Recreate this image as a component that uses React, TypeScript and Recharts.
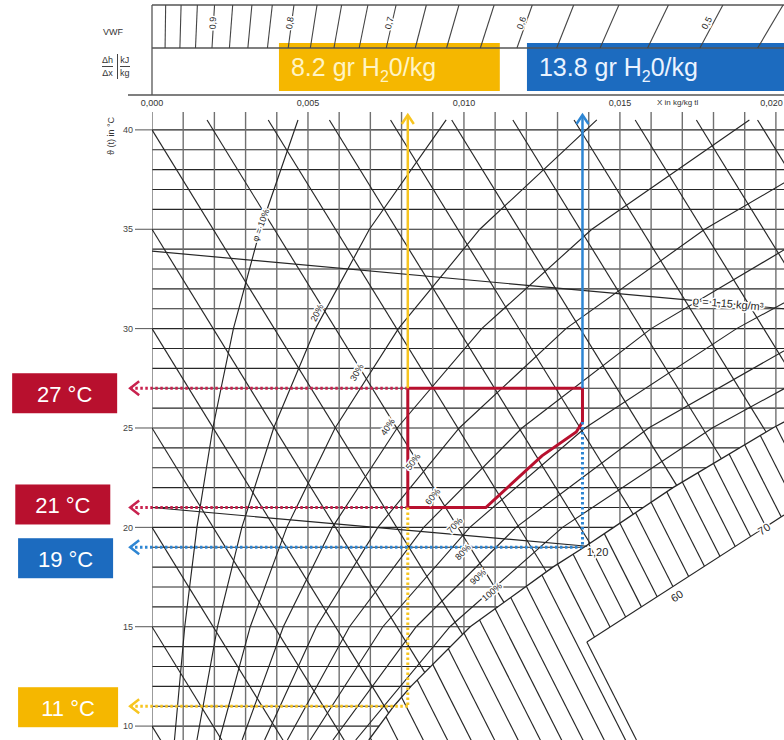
import {
  ComposedChart,
  Line,
  XAxis,
  YAxis,
  ReferenceLine,
  ReferenceArea,
  ReferenceDot,
} from "recharts";

const FONT = "'Liberation Sans', Arial, sans-serif";
const INK = "#262626";
const GRID_W = 1.15;
const YELLOW = "#F5B700";
const YELLOW_LINE = "#F7C520";
const BLUE = "#1C6BBF";
const BLUE_LINE = "#2E86D3";
const RED = "#B8102E";
const RED_LINE = "#C8224E";

// x axis in g/kg (printed as kg/kg), y axis in °C
const X_MAX = 20.26;
const T_MIN = 9.3;
const T_MAX = 40.9;
const T_TOP = 40.5;

const xTicks = [0, 5, 10, 15, 20];
const xTickLabels = ["0,000", "0,005", "0,010", "0,015", "0,020"];
const tTicks = [10, 15, 20, 25, 30, 35, 40];

const isotherms = [10, 11, 12, 13, 14, 15, 16, 17, 18, 19, 20, 21, 22, 23, 24, 25, 26, 27, 28, 29, 30, 31, 32, 33, 34, 35, 36, 37, 38, 39, 40];
const moistureLines = [0, 1, 2, 3, 4, 5, 6, 7, 8, 9, 10, 11, 12, 13, 14, 15, 16, 17, 18, 19, 20];
// enthalpy lines, named by the temperature where they leave x = 0
const enthalpyLines = [10, 15, 20, 25, 30, 35, 40, 45, 50, 55, 60, 65, 70, 75, 80, 85, 90];
const ENTHALPY_SLOPE = -2.55;

// relative humidity curves (g/kg, °C)
const rh10 = [{ g: 0.72, t: 9.3 }, { g: 1.05, t: 15 }, { g: 1.44, t: 20 }, { g: 1.95, t: 25 }, { g: 2.61, t: 30 }, { g: 3.47, t: 35 }, { g: 4.68, t: 40.5 }];
const rh20 = [{ g: 1.44, t: 9.3 }, { g: 2.1, t: 15 }, { g: 2.88, t: 20 }, { g: 3.9, t: 25 }, { g: 5.24, t: 30 }, { g: 6.97, t: 35 }, { g: 9.43, t: 40.5 }];
const rh30 = [{ g: 2.16, t: 9.3 }, { g: 3.15, t: 15 }, { g: 4.32, t: 20 }, { g: 5.87, t: 25 }, { g: 7.9, t: 30 }, { g: 10.51, t: 35 }, { g: 14.26, t: 40.5 }];
const rh40 = [{ g: 2.89, t: 9.3 }, { g: 4.21, t: 15 }, { g: 5.78, t: 20 }, { g: 7.86, t: 25 }, { g: 10.57, t: 30 }, { g: 14.1, t: 35 }, { g: 19.15, t: 40.5 }];
const rh50 = [{ g: 3.61, t: 9.3 }, { g: 5.27, t: 15 }, { g: 7.24, t: 20 }, { g: 9.85, t: 25 }, { g: 13.27, t: 30 }, { g: 17.72, t: 35 }, { g: 20.99, t: 38 }];
const rh60 = [{ g: 4.34, t: 9.3 }, { g: 6.33, t: 15 }, { g: 8.71, t: 20 }, { g: 11.86, t: 25 }, { g: 16.0, t: 30 }, { g: 21.38, t: 35 }];
const rh70 = [{ g: 5.07, t: 9.3 }, { g: 7.4, t: 15 }, { g: 10.19, t: 20 }, { g: 13.88, t: 25 }, { g: 18.74, t: 30 }, { g: 21.08, t: 32 }];
const rh80 = [{ g: 5.8, t: 9.3 }, { g: 8.47, t: 15 }, { g: 11.67, t: 20 }, { g: 15.92, t: 25 }, { g: 21.51, t: 30 }];
const rh90 = [{ g: 6.53, t: 9.3 }, { g: 9.55, t: 15 }, { g: 13.16, t: 20 }, { g: 17.96, t: 25 }, { g: 20.29, t: 27 }];
const saturation = [
  { g: 6.95, t: 9.3 }, { g: 7.75, t: 11 }, { g: 8.3, t: 12 }, { g: 10.2, t: 15 }, { g: 12.85, t: 18 },
  { g: 13.85, t: 19 }, { g: 14.8, t: 20 }, { g: 16.7, t: 22 }, { g: 19.9, t: 25 }, { g: 21.1, t: 26 },
];
const rhCurves = [rh10, rh20, rh30, rh40, rh50, rh60, rh70, rh80, rh90];

const rhLabels = [
  { text: "φ = 10%", g: 3.49, t: 35.2, angle: -70 },
  { text: "20%", g: 5.29, t: 30.8, angle: -64 },
  { text: "30%", g: 6.57, t: 27.8, angle: -60 },
  { text: "40%", g: 7.56, t: 25.05, angle: -56 },
  { text: "50%", g: 8.37, t: 23.3, angle: -52 },
  { text: "60%", g: 9.0, t: 21.55, angle: -50 },
  { text: "70%", g: 9.71, t: 20.1, angle: -47 },
  { text: "80%", g: 9.97, t: 18.75, angle: -45 },
  { text: "90%", g: 10.45, t: 17.5, angle: -42 },
  { text: "100%", g: 10.9, t: 16.75, angle: -40 },
];

// density lines
const rho115 = [{ g: 0, t: 33.9 }, { g: X_MAX, t: 31.0 }];
const rho120 = [{ g: 0, t: 21.0 }, { g: 13.95, t: 19.05 }];

// fog region: isotherm hatching below saturation, cut by the enthalpy scale
const hatchFrom = [7, 7.5, 8, 8.5, 9, 9.5, 10, 10.5, 11, 11.5, 12, 12.5, 13, 13.5, 14, 14.5, 15, 15.5, 16, 16.5, 17, 17.5, 18, 18.5, 19, 19.5, 20];
const HATCH_SLOPE = -3.1;
const fogScale = [{ g: 13.94, t: 14.23 }, { g: 20.26, t: 20.62 }];
const fogScaleLabels = [{ text: "60", g: 16.7, t: 16.85 }, { text: "70", g: 19.49, t: 20.22 }];

// marked state
const moistLow = 8.2;
const moistHigh = 13.8;
const tDryHigh = 27;
const tDryLow = 21;
const tDewHigh = 19;
const tDewLow = 11;
const comfortZone = [
  { g: 8.2, t: 27 }, { g: 13.8, t: 27 }, { g: 13.8, t: 25.3 }, { g: 13.6, t: 24.8 },
  { g: 12.5, t: 23.6 }, { g: 10.7, t: 21 }, { g: 8.2, t: 21 }, { g: 8.2, t: 27 },
];

// VWF scale strip
const vwfLines = [0.975, 0.95, 0.925, 0.9, 0.875, 0.85, 0.825, 0.8, 0.775, 0.75, 0.725, 0.7, 0.675, 0.65, 0.625, 0.6, 0.575, 0.55, 0.525, 0.5, 0.475];
const vwfLabels = [0.9, 0.8, 0.7, 0.6, 0.5];

const ARROW_X = -0.7;
const TIP_T = 40.75;

const vwfToG = (v: number) => (549 / v - 550) / 31.2;
const vwfSlant = (v: number) => (23 * (1 / v - 1)) / 31.2;

// piecewise-linear lookups along the saturation line
function satT(g: number) {
  for (let i = 1; i < saturation.length; i++) {
    const a = saturation[i - 1];
    const b = saturation[i];
    if (g <= b.g || i === saturation.length - 1) return a.t + ((g - a.g) / (b.g - a.g)) * (b.t - a.t);
  }
  return saturation[0].t;
}
function satG(t: number) {
  for (let i = 1; i < saturation.length; i++) {
    const a = saturation[i - 1];
    const b = saturation[i];
    if (t <= b.t || i === saturation.length - 1) return a.g + ((t - a.t) / (b.t - a.t)) * (b.g - a.g);
  }
  return saturation[0].g;
}
// where a straight line t = t0 + s * (g - g0) meets the saturation line
function hitSaturation(g0: number, t0: number, s: number) {
  let lo = g0;
  let hi = 40;
  for (let k = 0; k < 50; k++) {
    const mid = (lo + hi) / 2;
    if (t0 + s * (mid - g0) > satT(mid)) lo = mid;
    else hi = mid;
  }
  return { x: lo, y: t0 + s * (lo - g0) };
}

const scaleSlope = (fogScale[1].t - fogScale[0].t) / (fogScale[1].g - fogScale[0].g);
const footG = fogScale[0].g + (fogScale[0].t - T_MIN) / -HATCH_SLOPE;

function hatchEnd(gs: number, ts: number) {
  const g = (ts - HATCH_SLOPE * gs - fogScale[0].t + scaleSlope * fogScale[0].g) / (scaleSlope - HATCH_SLOPE);
  if (g >= fogScale[0].g) return { x: g, y: ts + HATCH_SLOPE * (g - gs) };
  return { x: gs + 6, y: ts + HATCH_SLOPE * 6 };
}

const TextMark = ({ cx, cy, text, angle = 0, size = 9, anchor = "middle", fill = INK, halo = true }: any) => (
  <text
    x={cx}
    y={cy}
    transform={`rotate(${angle} ${cx} ${cy})`}
    textAnchor={anchor}
    dominantBaseline="central"
    fontSize={size}
    fontFamily={FONT}
    fill={fill}
    stroke={halo ? "#fff" : "none"}
    strokeWidth={halo ? 3 : 0}
    paintOrder="stroke"
  >
    {text}
  </text>
);

const LeftArrow = ({ cx, cy, color }: any) => (
  <path d={`M${cx + 9},${cy - 7} L${cx},${cy} L${cx + 9},${cy + 7}`} stroke={color} strokeWidth={2.5} fill="none" />
);

const UpArrow = ({ cx, cy, color }: any) => (
  <path d={`M${cx - 6},${cy + 9} L${cx},${cy} L${cx + 6},${cy + 9}`} stroke={color} strokeWidth={2.5} fill="none" />
);

const TempBox = ({ cx, cy, text, color, w, dy }: any) => (
  <g>
    <rect x={cx - w / 2} y={cy + dy - 20} width={w} height={40} fill={color} />
    <text x={cx} y={cy + dy + 1} textAnchor="middle" dominantBaseline="central" fontSize={22} fontFamily={FONT} fill="#fff">
      {text}
    </text>
  </g>
);

const tempBoxes = [
  { t: tDryHigh, text: "27 °C", color: RED, g: -2.8, w: 105, dy: 5 },
  { t: tDryLow, text: "21 °C", color: RED, g: -2.86, w: 95, dy: -3 },
  { t: tDewHigh, text: "19 °C", color: BLUE, g: -2.77, w: 95, dy: 11 },
  { t: tDewLow, text: "11 °C", color: YELLOW, g: -2.69, w: 100, dy: 1 },
];

const BoxLabel = ({ viewBox, value, color }: any) => {
  const { x, y, height } = viewBox;
  return (
    <text x={x + 12} y={y + height / 2 + 9} fontSize={25} fontFamily={FONT} fill={color}>
      {value}
      <tspan fontSize={16} dy={6}>2</tspan>
      <tspan dy={-6}>0/kg</tspan>
    </text>
  );
};

const TopTick = ({ x, y, payload }: any) => {
  const last = payload.value === xTicks[xTicks.length - 1];
  return (
    <text x={last ? x + 7 : x} y={y} textAnchor={last ? "end" : "middle"} fontSize={9} fontFamily={FONT} fill="#333">
      {xTickLabels[xTicks.indexOf(payload.value)]}
    </text>
  );
};

function Header() {
  return (
    <ComposedChart width={784} height={112} margin={{ top: 5, right: 0, bottom: 17, left: 152 }}>
      <XAxis type="number" dataKey="g" domain={[0, X_MAX]} hide allowDataOverflow />
      <YAxis type="number" domain={[0, 90]} hide allowDataOverflow />
      <ReferenceLine segment={[{ x: 0, y: 90 }, { x: X_MAX, y: 90 }]} stroke="#555" strokeWidth={1.6} ifOverflow="visible" />
      <ReferenceLine segment={[{ x: 0, y: 47 }, { x: X_MAX, y: 47 }]} stroke="#555" strokeWidth={1.3} ifOverflow="visible" />
      <ReferenceLine segment={[{ x: 0, y: 0 }, { x: 0, y: 90 }]} stroke="#555" strokeWidth={1.3} ifOverflow="visible" />
      <ReferenceLine segment={[{ x: -0.77, y: 0 }, { x: X_MAX, y: 0 }]} stroke="#555" strokeWidth={1.3} ifOverflow="visible" />
      {vwfLines.map((v) => (
        <ReferenceLine
          key={v}
          segment={[{ x: vwfToG(v), y: 47 }, { x: vwfToG(v) + vwfSlant(v), y: 90 }]}
          stroke="#444"
          strokeWidth={1.1}
          ifOverflow="hidden"
        />
      ))}
      {vwfLabels.map((v) => (
        <ReferenceDot
          key={v}
          x={vwfToG(v) + vwfSlant(v) * 0.3}
          y={72}
          ifOverflow="visible"
          shape={(p: any) => (
            <TextMark
              cx={p.cx}
              cy={p.cy}
              text={v.toFixed(1).replace(".", ",")}
              angle={-(Math.atan2(43, vwfSlant(v) * 31.2) * 180) / Math.PI}
              size={9}
            />
          )}
        />
      ))}
      <ReferenceArea
        x1={4.07}
        x2={11.15}
        y1={4}
        y2={52}
        fill={YELLOW}
        fillOpacity={1}
        stroke="none"
        ifOverflow="visible"
        label={<BoxLabel value="8.2 gr H" color="#FFF4C4" />}
      />
      <ReferenceArea
        x1={12.02}
        x2={X_MAX + 1}
        y1={4}
        y2={52}
        fill={BLUE}
        fillOpacity={1}
        stroke="none"
        ifOverflow="visible"
        label={<BoxLabel value="13.8 gr H" color="#EAF3FF" />}
      />
    </ComposedChart>
  );
}

function MainChart() {
  return (
    <ComposedChart width={784} height={740} margin={{ top: 82, right: 0, bottom: 0, left: 92 }}>
      <XAxis
        type="number"
        dataKey="g"
        orientation="top"
        domain={[0, X_MAX]}
        ticks={xTicks}
        interval={0}
        height={30}
        axisLine={false}
        tickLine={false}
        tickSize={4}
        tickMargin={2}
        tick={<TopTick />}
        allowDataOverflow
      />
      <YAxis
        type="number"
        domain={[T_MIN, T_MAX]}
        ticks={tTicks}
        interval={0}
        width={60}
        axisLine={false}
        tickSize={17}
        tickMargin={2}
        tickLine={{ stroke: "#555" }}
        tick={{ fontSize: 9, fill: "#444", fontFamily: FONT }}
        allowDataOverflow
      />

      {/* grid, stopped at the saturation line */}
      {isotherms.map((t) => (
        <ReferenceLine key={`t${t}`} segment={[{ x: 0, y: t }, { x: satG(t), y: t }]} stroke={INK} strokeWidth={GRID_W} ifOverflow="hidden" />
      ))}
      {moistureLines.map((g) => (
        <ReferenceLine
          key={`x${g}`}
          segment={[{ x: g, y: g < saturation[0].g ? T_MIN - 1 : satT(g) }, { x: g, y: T_MAX }]}
          stroke="#707070"
          strokeWidth={1.4}
          ifOverflow="hidden"
        />
      ))}
      {enthalpyLines.map((h) => {
        const start = h <= T_TOP ? { x: 0, y: h } : { x: (h - T_TOP) / -ENTHALPY_SLOPE, y: T_TOP };
        return (
          <ReferenceLine key={`h${h}`} segment={[start, hitSaturation(0, h, ENTHALPY_SLOPE)]} stroke={INK} strokeWidth={GRID_W} ifOverflow="hidden" />
        );
      })}
      <Line data={rho115} dataKey="t" stroke={INK} strokeWidth={GRID_W} dot={false} activeDot={false} isAnimationActive={false} />
      <Line data={rho120} dataKey="t" stroke={INK} strokeWidth={GRID_W} dot={false} activeDot={false} isAnimationActive={false} />
      {rhCurves.map((c, i) => (
        <Line key={`rh${i}`} data={c} dataKey="t" stroke={INK} strokeWidth={GRID_W} dot={false} activeDot={false} isAnimationActive={false} />
      ))}

      {/* fog region */}
      {hatchFrom.map((g) => {
        const t0 = satT(g);
        return <ReferenceLine key={`f${g}`} segment={[{ x: g, y: t0 }, hatchEnd(g, t0)]} stroke={INK} strokeWidth={GRID_W} ifOverflow="hidden" />;
      })}
      <ReferenceLine segment={[fogScale[0], fogScale[1]].map((p) => ({ x: p.g, y: p.t }))} stroke={INK} strokeWidth={GRID_W} ifOverflow="hidden" />
      <ReferenceLine segment={[{ x: fogScale[0].g, y: fogScale[0].t }, { x: footG, y: T_MIN }]} stroke={INK} strokeWidth={GRID_W} ifOverflow="hidden" />
      <Line data={saturation} dataKey="t" stroke={INK} strokeWidth={1.3} dot={false} activeDot={false} isAnimationActive={false} />

      {/* curve labels */}
      {rhLabels.map((l) => (
        <ReferenceDot key={l.text} x={l.g} y={l.t} shape={(p: any) => <TextMark cx={p.cx} cy={p.cy} text={l.text} angle={l.angle} size={9} />} />
      ))}
      {fogScaleLabels.map((l) => (
        <ReferenceDot key={l.text} x={l.g} y={l.t} shape={(p: any) => <TextMark cx={p.cx + 4} cy={p.cy + 6} text={l.text} angle={-33} size={11} />} />
      ))}
      <ReferenceDot x={17.34} y={31.42} shape={(p: any) => <TextMark cx={p.cx} cy={p.cy} text="ϱ = 1,15 kg/m³" angle={5} size={11} anchor="start" />} />
      <ReferenceDot x={13.94} y={18.76} shape={(p: any) => <TextMark cx={p.cx} cy={p.cy} text="1,20" size={11} anchor="start" />} />

      {/* comfort zone 21-27 °C */}
      <Line data={comfortZone} dataKey="t" stroke={RED} strokeWidth={3} dot={false} activeDot={false} isAnimationActive={false} />
      <ReferenceLine segment={[{ x: moistLow, y: tDryHigh }, { x: ARROW_X, y: tDryHigh }]} stroke={RED_LINE} strokeWidth={3} strokeDasharray="2.5 2.5" ifOverflow="visible" />
      <ReferenceLine segment={[{ x: moistLow, y: tDryLow }, { x: ARROW_X, y: tDryLow }]} stroke={RED_LINE} strokeWidth={3} strokeDasharray="2.5 2.5" ifOverflow="visible" />
      <ReferenceDot x={ARROW_X} y={tDryHigh} ifOverflow="visible" shape={(p: any) => <LeftArrow cx={p.cx} cy={p.cy} color={RED_LINE} />} />
      <ReferenceDot x={ARROW_X} y={tDryLow} ifOverflow="visible" shape={(p: any) => <LeftArrow cx={p.cx} cy={p.cy} color={RED_LINE} />} />

      {/* 8.2 g/kg: dew point 11 °C */}
      <ReferenceLine segment={[{ x: moistLow, y: tDryHigh }, { x: moistLow, y: TIP_T }]} stroke={YELLOW_LINE} strokeWidth={2.5} ifOverflow="visible" />
      <ReferenceLine segment={[{ x: moistLow, y: tDryLow }, { x: moistLow, y: tDewLow }]} stroke={YELLOW_LINE} strokeWidth={3} strokeDasharray="2.5 2.5" ifOverflow="visible" />
      <ReferenceLine segment={[{ x: moistLow, y: tDewLow }, { x: ARROW_X, y: tDewLow }]} stroke={YELLOW_LINE} strokeWidth={3} strokeDasharray="2.5 2.5" ifOverflow="visible" />
      <ReferenceDot x={moistLow} y={TIP_T} ifOverflow="visible" shape={(p: any) => <UpArrow cx={p.cx} cy={p.cy} color={YELLOW_LINE} />} />
      <ReferenceDot x={ARROW_X} y={tDewLow} ifOverflow="visible" shape={(p: any) => <LeftArrow cx={p.cx} cy={p.cy} color={YELLOW_LINE} />} />

      {/* 13.8 g/kg: dew point 19 °C */}
      <ReferenceLine segment={[{ x: moistHigh, y: tDryHigh }, { x: moistHigh, y: TIP_T }]} stroke={BLUE_LINE} strokeWidth={2.5} ifOverflow="visible" />
      <ReferenceLine segment={[{ x: moistHigh, y: 25.3 }, { x: moistHigh, y: tDewHigh }]} stroke={BLUE_LINE} strokeWidth={3} strokeDasharray="2.5 2.5" ifOverflow="visible" />
      <ReferenceLine segment={[{ x: moistHigh, y: tDewHigh }, { x: ARROW_X, y: tDewHigh }]} stroke={BLUE_LINE} strokeWidth={3} strokeDasharray="2.5 2.5" ifOverflow="visible" />
      <ReferenceDot x={moistHigh} y={TIP_T} ifOverflow="visible" shape={(p: any) => <UpArrow cx={p.cx} cy={p.cy} color={BLUE_LINE} />} />
      <ReferenceDot x={ARROW_X} y={tDewHigh} ifOverflow="visible" shape={(p: any) => <LeftArrow cx={p.cx} cy={p.cy} color={BLUE_LINE} />} />

      {tempBoxes.map((b) => (
        <ReferenceDot
          key={b.text}
          x={b.g}
          y={b.t}
          ifOverflow="visible"
          shape={(p: any) => <TempBox cx={p.cx} cy={p.cy} text={b.text} color={b.color} w={b.w} dy={b.dy} />}
        />
      ))}
    </ComposedChart>
  );
}

export default function App() {
  const small = { position: "absolute" as const, fontFamily: FONT, color: "#333", whiteSpace: "nowrap" as const };
  return (
    <div style={{ position: "absolute", left: 0, top: 0, width: 784, height: 740, overflow: "hidden", background: "#fff" }}>
      <div style={{ position: "absolute", left: 0, top: 0 }}>
        <MainChart />
      </div>
      <div style={{ position: "absolute", left: 0, top: 0 }}>
        <Header />
      </div>
      <div style={{ ...small, left: 103, top: 27, fontSize: 9 }}>VWF</div>
      <div style={{ ...small, left: 102, top: 54, fontSize: 9, lineHeight: "12px", display: "flex" }}>
        <div style={{ textAlign: "center" }}>
          <div style={{ borderBottom: "1px solid #444" }}>Δh</div>
          <div>Δx</div>
        </div>
        <div style={{ textAlign: "center", marginLeft: 4, paddingLeft: 2, borderLeft: "1px solid #444" }}>
          <div style={{ borderBottom: "1px solid #444" }}>kJ</div>
          <div>kg</div>
        </div>
      </div>
      <div style={{ ...small, left: 657, top: 98, fontSize: 8 }}>X in kg/kg tl</div>
      <div style={{ ...small, left: 111, top: 136, fontSize: 9, transform: "translate(-50%, -50%) rotate(-90deg)" }}>ϑ (t) in °C</div>
    </div>
  );
}
